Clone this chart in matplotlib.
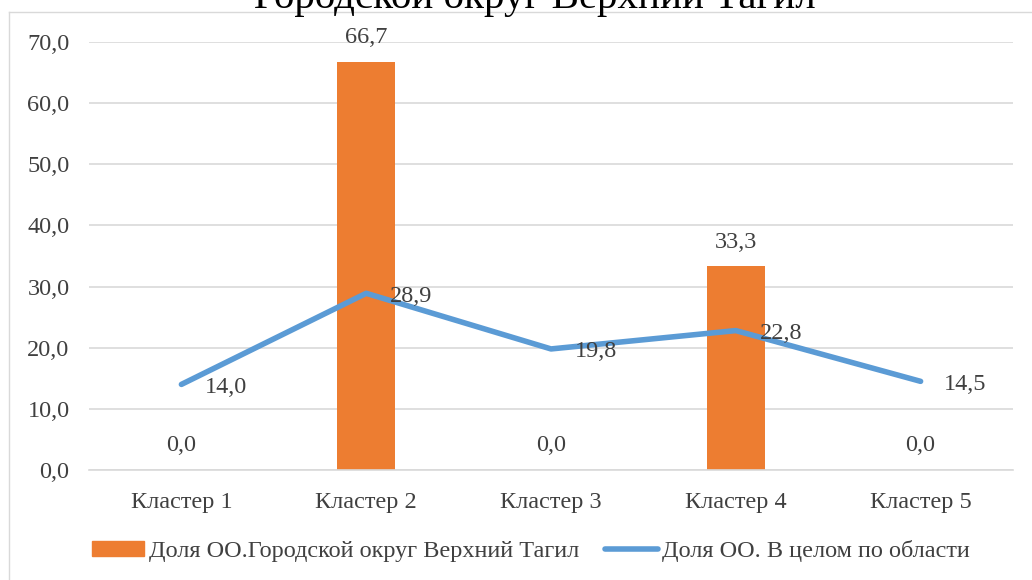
import matplotlib
matplotlib.use("Agg")
import matplotlib.pyplot as plt
import numpy as np
from matplotlib.lines import Line2D
from matplotlib.patches import Rectangle

categories = ["Кластер 1", "Кластер 2", "Кластер 3", "Кластер 4", "Кластер 5"]
bar_values = [0.0, 66.7, 0.0, 33.3, 0.0]
line_values = [14.0, 28.9, 19.8, 22.8, 14.5]
bar_name = "Доля ОО.Городской округ Верхний Тагил"
line_name = "Доля ОО. В целом по области"
title = "Городской округ Верхний Тагил"
yticks = [0, 10, 20, 30, 40, 50, 60, 70]

plt.rcParams['font.family'] = ['Liberation Serif', 'DejaVu Serif']
txt = '#404040'
W, H = 1032, 580
FS = 17.5
fig = plt.figure(figsize=(W/100, H/100), dpi=100)

# chart frame (partially visible)
fig.add_artist(Line2D([9/W, 9/W], [0, 1-12/H], color='#D9D9D9', lw=1, transform=fig.transFigure))
fig.add_artist(Line2D([9/W, 1], [1-12/H, 1-12/H], color='#D9D9D9', lw=1, transform=fig.transFigure))

fig.text(535/W, 1-8/H, title, ha='center', va='baseline', fontsize=29.5, color='black')

ax = fig.add_axes([89/W, 1-470/H, (1013-89)/W, (470-42)/H])
x = np.arange(len(categories))
ax.bar(x, bar_values, width=0.314, color='#ED7D31', zorder=2)
ax.plot(x, line_values, color='#5B9BD5', lw=4, zorder=3, solid_capstyle='round')
ax.set_xlim(-0.5, len(categories)-0.5)
ax.set_ylim(0, 70)
ax.set_yticks(yticks)
ax.set_yticklabels([f"{v:.1f}".replace('.', ',') for v in yticks])
ax.set_xticks(x)
ax.set_xticklabels(categories)
ax.tick_params(axis='both', length=0, labelsize=FS, colors=txt)
ax.tick_params(axis='y', pad=14)
ax.tick_params(axis='x', pad=16)
ax.grid(axis='y', color='#D9D9D9', lw=1.2, zorder=0)
for s in ['top', 'right', 'left']:
    ax.spines[s].set_visible(False)
ax.spines['bottom'].set_color('#D9D9D9')
ax.spines['bottom'].set_linewidth(1.2)

for xi, v in zip(x, bar_values):
    ax.annotate(f"{v:.1f}".replace('.', ','), (xi, v), xytext=(0, 10), textcoords='offset points',
                ha='center', va='bottom', fontsize=FS, color=txt)
for xi, v in zip(x, line_values):
    ax.annotate(f"{v:.1f}".replace('.', ','), (xi, v), xytext=(17, -2), textcoords='offset points',
                ha='left', va='center', fontsize=FS, color=txt)

handles = [Rectangle((0, 0), 1, 1, color='#ED7D31'),
           Line2D([0], [0], color='#5B9BD5', lw=4, solid_capstyle='round')]
fig.legend(handles, [bar_name, line_name], loc='center', bbox_to_anchor=(531/W, 1-551/H),
           ncol=2, frameon=False, fontsize=FS, labelcolor=txt, handlelength=2.15,
           handleheight=0.55, handletextpad=0.2, columnspacing=1.07)

fig.savefig("out.png", dpi=100)
